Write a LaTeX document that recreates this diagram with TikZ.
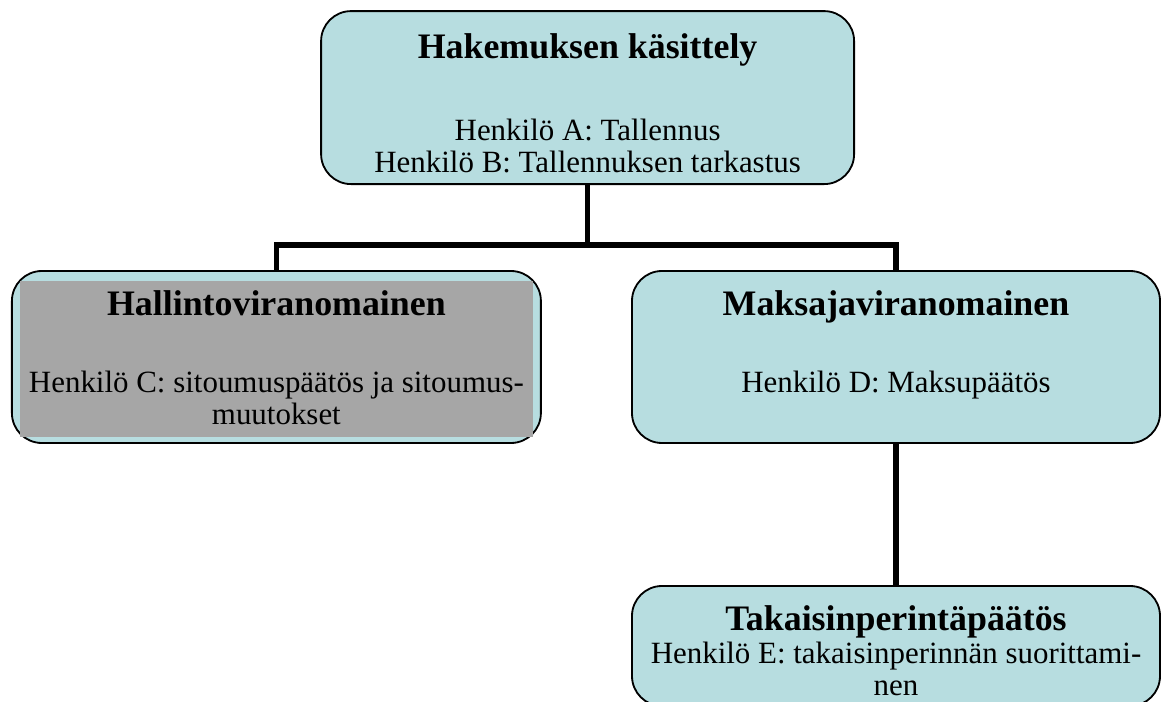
\documentclass[tikz,border=0pt]{standalone}
\usepackage{fontspec}
\setmainfont{Liberation Serif}
\usetikzlibrary{positioning}
\definecolor{boxblue}{RGB}{183,221,224}
\definecolor{shadegray}{RGB}{166,166,166}

\begin{document}
\begin{tikzpicture}
\tikzstyle{block} = [draw=black,line width=1.3pt,rectangle,rounded corners=0.75cm,fill=boxblue,inner sep=0pt,minimum width=13.2cm,minimum height=4.3cm]
\tikzstyle{title} = [inner sep=0pt,font=\fontsize{25.5}{30}\selectfont\bfseries]
\tikzstyle{body} = [inner sep=0pt,align=center,font=\fontsize{22}{22.5}\selectfont]
\tikzstyle{link} = [line width=4pt]
\useasboundingbox (0,0) rectangle (29.025,-17.55);
% boxes
\node[block,minimum width=13.325cm,minimum height=4.325cm] (hak) at (14.69,-2.44) {};
\node[block,minimum width=13.225cm] (hall) at (6.91,-8.925) {};
\node[rectangle,fill=shadegray,minimum width=12.825cm,minimum height=3.9cm,inner sep=0pt] (hallShade) at (6.91,-8.975) {};
\node[block] (maks) at (22.4,-8.925) {};
\node[block,minimum height=3cm] (tak) at (22.4,-16.15) {};
% texts
\node[title,below=0.57cm of hak.north] (hakTitle) {Hakemuksen käsittely};
\node[body,below=2.72cm of hak.north] (hakText) {Henkilö A: Tallennus\\Henkilö B: Tallennuksen tarkastus};
\node[title,below=0.5cm of hall.north] (hallTitle) {Hallintoviranomainen};
\node[body,below=2.52cm of hall.north] (hallText) {Henkilö C: sitoumuspäätös ja sitoumus-\\muutokset};
\node[title,below=0.5cm of maks.north] (maksTitle) {Maksajaviranomainen};
\node[body,below=2.52cm of maks.north] (maksText) {Henkilö D: Maksupäätös};
\node[title,below=0.5cm of tak.north] (takTitle) {Takaisinperintäpäätös};
\node[body,below=1.42cm of tak.north] (takText) {Henkilö E: takaisinperinnän suorittami-\\nen};
% connectors
\coordinate (split) at (14.69,-6.125);
\draw[link] (hak.south) -- (split);
\draw[link] (split) -| (hall.north);
\draw[link] (split) -| (maks.north);
\draw[link] (maks.south) -- (tak.north);
\end{tikzpicture}
\end{document}
